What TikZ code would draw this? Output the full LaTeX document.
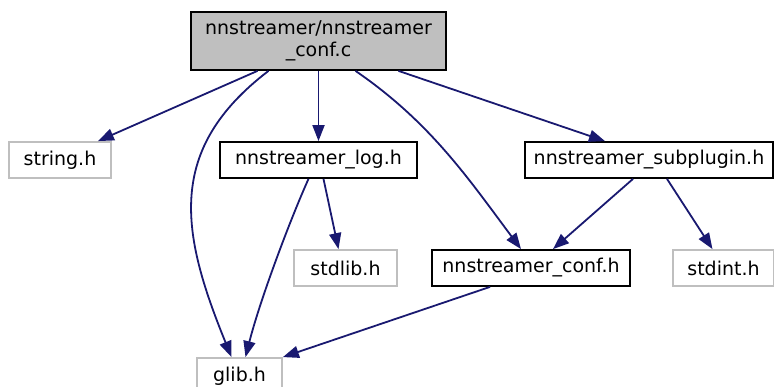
\documentclass[tikz,border=0pt]{standalone}
\usepackage{fontspec}
\setmainfont{DejaVu Sans}
\usetikzlibrary{arrows.meta}
\definecolor{edgeblue}{HTML}{191970}
\definecolor{lightgrey}{HTML}{BFBFBF}
\begin{document}
\begin{tikzpicture}[x=1pt,y=-1pt,
    dep/.style={draw=black, line width=1.8pt, minimum height=36pt, inner sep=0pt,
        font=\fontsize{19}{21.5}\selectfont, text=black},
    sysdep/.style={dep, draw=lightgrey},
    edge/.style={draw=edgeblue, line width=1.8pt,
        -{Stealth[length=16pt,width=12pt,inset=0pt]}}]
    \useasboundingbox (0,0) rectangle (774,387);
    % nodes
    \node[dep, fill=lightgrey, minimum width=255pt, minimum height=58pt, align=center] (conf_c) at (318.5,41) {nnstreamer/nnstreamer\\\_conf.c};
    \node[sysdep, minimum width=102pt] (string) at (60,160) {string.h};
    \node[dep, minimum width=197pt] (log) at (318.5,160) {nnstreamer\_log.h};
    \node[dep, minimum width=248pt] (subplugin) at (649,160) {nnstreamer\_subplugin.h};
    \node[sysdep, minimum width=103pt] (stdlib) at (345.5,268) {stdlib.h};
    \node[dep, minimum width=198pt] (conf_h) at (531,268) {nnstreamer\_conf.h};
    \node[sysdep, minimum width=101pt] (stdint) at (723.5,268) {stdint.h};
    \node[sysdep, minimum width=85pt] (glib) at (239.5,376) {glib.h};
    % includes
    \draw[edge] ([xshift=-61pt]conf_c.south) -- ([xshift=-14pt]string.north east);
    \draw[edge] ([xshift=-50pt]conf_c.south) .. controls (165,150) and (181,233) .. ([xshift=-8pt]glib.north);
    \draw[edge] (conf_c.south) -- (log.north);
    \draw[edge] ([xshift=37pt]conf_c.south) .. controls (430,122) and (468,178) .. ([xshift=-10pt]conf_h.north);
    \draw[edge] ([xshift=80pt]conf_c.south) -- ([xshift=-44pt]subplugin.north);
    \draw[edge] ([xshift=-10pt]log.south) .. controls (290,220) and (260,300) .. ([xshift=6pt]glib.north);
    \draw[edge] ([xshift=5pt]log.south) -- ([xshift=-7pt]stdlib.north);
    \draw[edge] ([xshift=-16pt]subplugin.south) -- ([xshift=22pt]conf_h.north);
    \draw[edge] ([xshift=18pt]subplugin.south) -- ([xshift=-11pt]stdint.north);
    \draw[edge] ([xshift=-41pt]conf_h.south) -- (glib.north east);
\end{tikzpicture}
\end{document}
